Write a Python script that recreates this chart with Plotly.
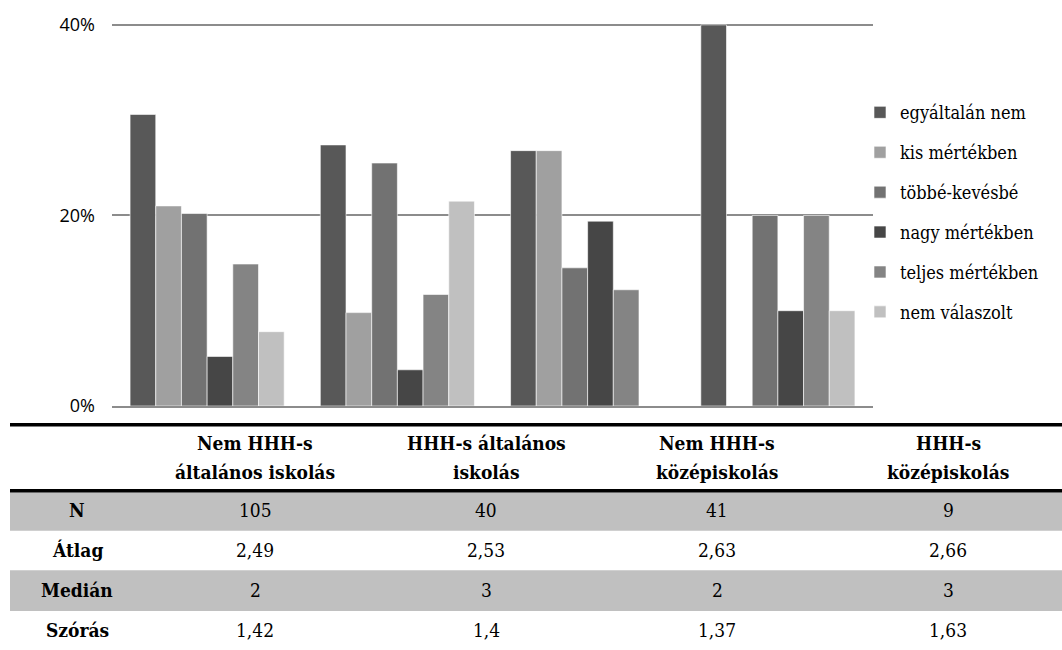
import plotly.graph_objects as go

# ---------------- data ----------------
categories = ["Nem HHH-s általános iskolás", "HHH-s általános iskolás",
              "Nem HHH-s középiskolás", "HHH-s középiskolás"]
series_names = ["egyáltalán nem", "kis mértékben", "többé-kevésbé",
                "nagy mértékben", "teljes mértékben", "nem válaszolt"]
egyaltalan_nem = [30.6, 27.4, 26.8, 40.0]
kis_mertekben = [21.0, 9.8, 26.8, 0.0]
tobbe_kevesbe = [20.2, 25.5, 14.5, 20.0]
nagy_mertekben = [5.2, 3.8, 19.4, 10.0]
teljes_mertekben = [14.9, 11.7, 12.2, 20.0]
nem_valaszolt = [7.8, 21.5, 0.0, 10.0]
series_values = [egyaltalan_nem, kis_mertekben, tobbe_kevesbe,
                 nagy_mertekben, teljes_mertekben, nem_valaszolt]
series_colors = ["#585858", "#a0a0a0", "#727272", "#464646", "#848484", "#c0c0c0"]

y_ticks = [0, 20, 40]
y_tick_labels = ["0%", "20%", "40%"]

header_lines = [["Nem HHH-s", "általános iskolás"],
                ["HHH-s általános", "iskolás"],
                ["Nem HHH-s", "középiskolás"],
                ["HHH-s", "középiskolás"]]
row_labels = ["N", "Átlag", "Medián", "Szórás"]
n_values = ["105", "40", "41", "9"]
atlag_values = ["2,49", "2,53", "2,63", "2,66"]
median_values = ["2", "3", "2", "3"]
szoras_values = ["1,42", "1,4", "1,37", "1,63"]
table_rows = [n_values, atlag_values, median_values, szoras_values]

# ---------------- layout geometry (pixels) ----------------
W, H = 1062, 650
YMAX = 40.3
L, R, B = 112, 873, 406
T = B - (B - 21) * YMAX / 40.0
PW, PH = R - L, B - T

def px(x):
    return (x - L) / PW

def py(y):
    return (B - y) / PH

SERIF = "DejaVu Serif Condensed, DejaVu Serif"
SANS = "Open Sans"

fig = go.Figure()
for name, vals, col in zip(series_names, series_values, series_colors):
    fig.add_trace(go.Bar(
        x=categories, y=vals, name=name, legendgroup=name,
        marker=dict(color=col, line=dict(color="#ffffff", width=0.6)),
    ))

shapes = []
annotations = []

tbl_left, tbl_right = 10, 1062
for yy in (425, 491.5):
    shapes.append(dict(type="line", xref="paper", yref="paper",
                       x0=px(tbl_left), x1=px(tbl_right), y0=py(yy), y1=py(yy),
                       line=dict(color="black", width=3.5)))
row_tops = [493, 532, 572, 613]
row_bottoms = [532, 572, 613, 653]
for r in range(4):
    if r % 2 == 0:
        shapes.append(dict(type="rect", xref="paper", yref="paper",
                           x0=px(tbl_left), x1=px(tbl_right),
                           y0=py(row_bottoms[r]), y1=py(row_tops[r]),
                           fillcolor="#c0c0c0", line=dict(width=0), layer="below"))

label_cx = 77
col_cx = [255, 486, 717, 948]

for c, lines in enumerate(header_lines):
    for ln, yy in zip(lines, [443, 473]):
        annotations.append(dict(xref="paper", yref="paper", x=px(col_cx[c]), y=py(yy),
                                text="<b>" + ln + "</b>", showarrow=False,
                                xanchor="center", yanchor="middle",
                                font=dict(family=SERIF, size=19, color="black")))

for r, lab in enumerate(row_labels):
    cy = (row_tops[r] + row_bottoms[r]) / 2 - 1
    annotations.append(dict(xref="paper", yref="paper", x=px(label_cx), y=py(cy),
                            text="<b>" + lab + "</b>", showarrow=False,
                            xanchor="center", yanchor="middle",
                            font=dict(family=SERIF, size=19, color="black")))
    for c, v in enumerate(table_rows[r]):
        annotations.append(dict(xref="paper", yref="paper", x=px(col_cx[c]), y=py(cy),
                                text=v, showarrow=False,
                                xanchor="center", yanchor="middle",
                                font=dict(family=SERIF, size=19, color="black")))

fig.update_layout(
    width=W, height=H,
    margin=dict(l=L, r=W - R, t=T, b=H - B, pad=0),
    paper_bgcolor="white", plot_bgcolor="white",
    barmode="group", bargap=0.19, bargroupgap=0,
    showlegend=True,
    legend=dict(x=px(860), y=py(91), xanchor="left", yanchor="top",
                font=dict(family=SERIF, size=18, color="black"),
                tracegroupgap=13.5, itemwidth=30,
                bgcolor="rgba(0,0,0,0)", borderwidth=0),
    shapes=shapes,
    annotations=annotations,
    xaxis=dict(showticklabels=False, showgrid=False, showline=True,
               linecolor="#8c8c8c", linewidth=2, ticks="", zeroline=False,
               fixedrange=True),
    yaxis=dict(range=[0, YMAX], tickmode="array", tickvals=y_ticks, ticktext=y_tick_labels,
               showgrid=True, gridcolor="#8c8c8c", gridwidth=2,
               zeroline=False, showline=False, ticks="",
               ticklabelstandoff=16,
               tickfont=dict(family=SANS, size=18, color="black"),
               fixedrange=True),
)

fig.write_html("out.html", config={"displayModeBar": False},
               post_script="document.body.style.margin='0';")
